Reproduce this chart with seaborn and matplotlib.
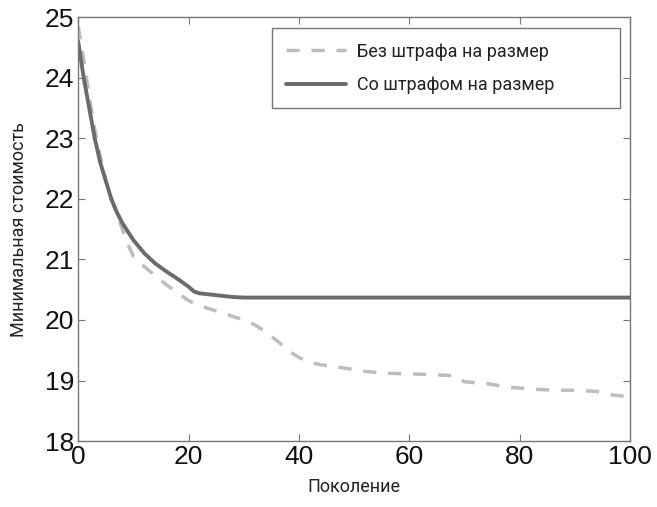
import numpy as np
import pandas as pd
import matplotlib
matplotlib.use('Agg')
import matplotlib.pyplot as plt
import seaborn as sns

# data
gen_plain = [0, 1, 2, 3, 4, 5, 6, 7, 8, 9, 10, 12, 14, 16, 18, 20, 22, 24, 26, 28, 30,
             32, 34, 36, 38, 40, 42, 44, 48, 52, 56, 60, 64, 68, 70, 74, 78, 82, 86,
             90, 94, 96, 100]
cost_plain = [24.85, 24.3, 23.7, 23.15, 22.7, 22.3, 22.0, 21.75, 21.5, 21.25, 21.05,
              20.88, 20.73, 20.58, 20.45, 20.32, 20.23, 20.18, 20.12, 20.06, 20.0,
              19.92, 19.8, 19.66, 19.5, 19.38, 19.3, 19.26, 19.21, 19.15, 19.12, 19.11,
              19.1, 19.08, 18.98, 18.95, 18.89, 18.86, 18.84, 18.84, 18.82, 18.77, 18.73]

gen_penalty = [0, 1, 2, 3, 4, 5, 6, 7, 8, 10, 12, 14, 16, 18, 20, 21, 22, 24, 26, 28,
               30, 40, 50, 60, 70, 80, 90, 100]
cost_penalty = [24.6, 24.0, 23.5, 23.0, 22.6, 22.3, 22.0, 21.78, 21.6, 21.32, 21.1, 20.93,
                20.8, 20.68, 20.55, 20.47, 20.44, 20.42, 20.4, 20.38, 20.37, 20.37,
                20.37, 20.37, 20.37, 20.37, 20.37, 20.37]

label_plain = 'Без штрафа на размер'
label_penalty = 'Со штрафом на размер'

sns.set_style('ticks')
narrow = ['Roboto', 'DejaVu Sans']

fig = plt.figure(figsize=(6.57, 5.07), dpi=100)
ax = fig.add_axes([0.119, 0.130, 0.840, 0.836])

sns.lineplot(x=gen_plain, y=cost_plain, ax=ax, color='#bdbdbd', linewidth=2.5,
             linestyle=(0, (3.8, 3.4)), label=label_plain)
sns.lineplot(x=gen_penalty, y=cost_penalty, ax=ax, color='#6b6b6b', linewidth=2.8,
             label=label_penalty)

ax.set_xlim(0, 100)
ax.set_ylim(18, 25)
ax.set_xticks([0, 20, 40, 60, 80, 100])
ax.set_yticks([18, 19, 20, 21, 22, 23, 24, 25])
ax.tick_params(direction='in', top=True, right=True, length=5, width=0.8,
               color='#777777', labelsize=19, pad=3, labelcolor='#111111')
for lab in ax.get_xticklabels() + ax.get_yticklabels():
    lab.set_family('Liberation Sans')
for sp in ax.spines.values():
    sp.set_color('#777777')
    sp.set_linewidth(1.0)

ax.set_xlabel('Поколение', family=narrow, fontsize=13, labelpad=6, color='#222222')
ax.set_ylabel('Минимальная стоимость', family=narrow, fontsize=13, labelpad=12,
              color='#222222')

leg = ax.legend(loc='upper left', bbox_to_anchor=(0.351, 0.792, 0.631, 0.182),
                mode='expand', frameon=True, fancybox=False, handlelength=3.3,
                borderpad=0.8, labelspacing=0.85, handletextpad=0.6, borderaxespad=0,
                prop={'family': narrow, 'size': 13})
leg.get_frame().set_edgecolor('#555555')
leg.get_frame().set_linewidth(1.0)
for t in leg.get_texts():
    t.set_color('#222222')

fig.savefig('out.png', dpi=100)
